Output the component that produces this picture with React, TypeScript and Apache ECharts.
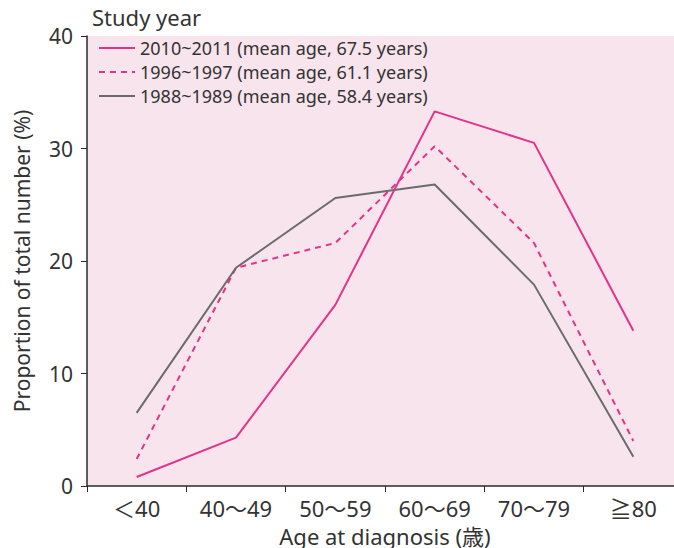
import React, { useEffect, useRef } from "react";
import * as echarts from "echarts";

const categories = ["＜40", "40〜49", "50〜59", "60〜69", "70〜79", "≧80"];
const series2010 = [0.8, 4.3, 16.1, 33.3, 30.5, 13.8];
const series1996 = [2.4, 19.4, 21.6, 30.2, 21.6, 4.0];
const series1988 = [6.5, 19.4, 25.6, 26.8, 17.9, 2.6];
const seriesNames = [
  "2010~2011 (mean age, 67.5 years)",
  "1996~1997 (mean age, 61.1 years)",
  "1988~1989 (mean age, 58.4 years)",
];

const FONT = "'Noto Sans', 'Noto Sans CJK JP', sans-serif";
const PINK = "#e2338b";
const GRAY = "#6b6b6b";
const AXIS = "#2a2a2a";
const TEXT = "#333333";

export default function App() {
  const ref = useRef<HTMLDivElement>(null);
  useEffect(() => {
    if (!ref.current) return;
    const chart = echarts.init(ref.current, null, { renderer: "svg" });
    chart.setOption({
      animation: false,
      textStyle: { fontFamily: FONT },
      title: {
        text: "Study year",
        left: 87,
        top: 1,
        textStyle: { fontFamily: FONT, fontSize: 22, fontWeight: "normal", color: TEXT },
      },
      legend: {
        orient: "vertical",
        left: 93,
        top: 34,
        itemWidth: 36,
        itemHeight: 10,
        itemGap: 6,
        itemStyle: { opacity: 0 },
        textStyle: { fontFamily: FONT, fontSize: 18, color: TEXT },
        data: seriesNames,
      },
      grid: {
        left: 87,
        top: 36,
        width: 596,
        height: 450,
        show: true,
        backgroundColor: "#f7e4ed",
        borderWidth: 0,
        containLabel: false,
        outerBoundsMode: "none",
      },
      xAxis: {
        type: "category",
        data: categories,
        boundaryGap: true,
        name: "Age at diagnosis (歳)",
        nameLocation: "middle",
        nameGap: 36,
        nameTextStyle: { fontFamily: FONT, fontSize: 22, color: TEXT, lineHeight: 24 },
        axisLine: { lineStyle: { color: AXIS, width: 1.5 } },
        axisTick: { show: true, length: 6, alignWithLabel: false, lineStyle: { color: AXIS } },
        axisLabel: { fontFamily: FONT, fontSize: 22, color: TEXT, margin: 11 },
        splitLine: { show: false },
      },
      yAxis: {
        type: "value",
        min: 0,
        max: 40,
        interval: 10,
        name: "Proportion of total number (%)",
        nameLocation: "middle",
        nameGap: 55,
        nameRotate: 90,
        nameTextStyle: { fontFamily: FONT, fontSize: 21, color: TEXT },
        axisLine: { show: true, lineStyle: { color: AXIS, width: 1.5 } },
        axisTick: { show: true, length: 6, lineStyle: { color: AXIS } },
        axisLabel: { fontFamily: FONT, fontSize: 21, color: TEXT, margin: 14 },
        splitLine: { show: false },
      },
      series: [
        {
          name: seriesNames[0],
          type: "line",
          data: series2010,
          symbol: "none",
          lineStyle: { color: PINK, width: 2 },
          itemStyle: { color: PINK },
        },
        {
          name: seriesNames[1],
          type: "line",
          data: series1996,
          symbol: "none",
          lineStyle: { color: PINK, width: 2, type: [6, 5] },
          itemStyle: { color: PINK },
        },
        {
          name: seriesNames[2],
          type: "line",
          data: series1988,
          symbol: "none",
          lineStyle: { color: GRAY, width: 2 },
          itemStyle: { color: GRAY },
        },
      ],
    });
    return () => chart.dispose();
  }, []);
  return (
    <div style={{ position: "absolute", left: 0, top: 0, width: 674, height: 548, overflow: "hidden" }}>
      <div ref={ref} style={{ width: 674, height: 548 }} />
    </div>
  );
}
